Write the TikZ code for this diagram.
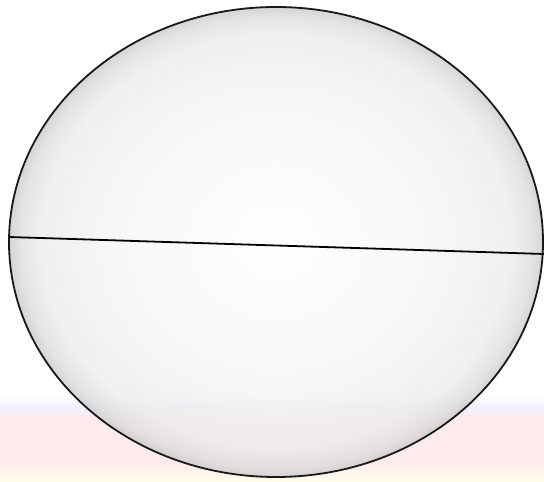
\documentclass[tikz,border=0pt]{standalone}
\usetikzlibrary{calc}
\pgfdeclareradialshading{rimshade}{\pgfpoint{0bp}{0bp}}{%
  color(0bp)=(white); color(15bp)=(white!96!black); color(22bp)=(white!92!black); color(24bp)=(white!86!black); color(25bp)=(white!78!black); color(50bp)=(white!78!black)}
\pgfdeclareverticalshading{wmark}{100bp}{%
  color(0bp)=(red!7!white); color(25bp)=(red!5!yellow!8!white); color(35bp)=(red!8!white); color(62bp)=(red!8!white); color(68bp)=(blue!6!white); color(75bp)=(white); color(100bp)=(white)}
\tikzset{
  rim/.style={draw=black!90, line width=0.9pt},
  cut/.style={draw=black, line width=0.9pt},
}
\begin{document}
\begin{tikzpicture}[x=0.5pt,y=0.5pt]
\useasboundingbox (0,0) rectangle (544,481);
\fill[white] (0,0) rectangle (544,481);
\shade[shading=wmark] (0,0) rectangle (544,85);
\shade[shading=rimshade, opacity=0.75] (276,239) ellipse [x radius=267, y radius=235];
\draw[rim] (276,239) ellipse [x radius=267, y radius=235];
\coordinate (L) at (9,244);
\coordinate (R) at (544,227);
\draw[cut] (L) -- (R);
\end{tikzpicture}
\end{document}
